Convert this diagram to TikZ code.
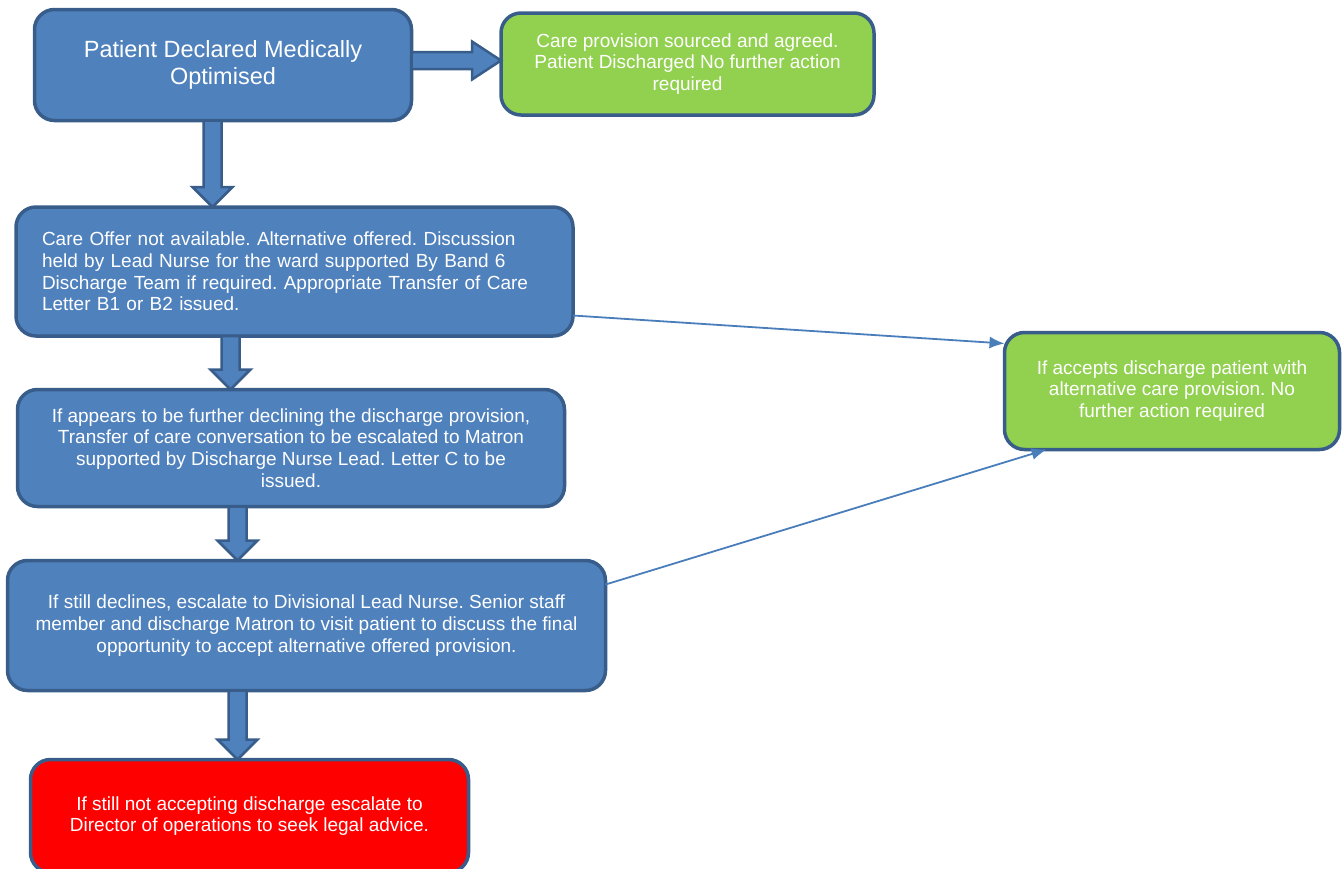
\documentclass[tikz,border=0pt]{standalone}
\usepackage{xcolor}
\usepackage{fontspec}
\setmainfont{Liberation Sans}
\usepackage{tikz}
\usetikzlibrary{calc,arrows.meta}
\frenchspacing

\definecolor{boxblue}{HTML}{4F81BD}
\definecolor{boxline}{HTML}{385D8A}
\definecolor{okgreen}{HTML}{92D050}
\definecolor{alertred}{HTML}{FF0000}
\definecolor{linkblue}{HTML}{4A7EBB}

\tikzset{
  stage/.style={draw=boxline, line width=3.5pt, fill=boxblue, rounded corners=20pt,
    text=white, align=center, font=\fontsize{19}{21.7}\selectfont,
    inner sep=0pt, outer sep=0pt},
  blockarrow/.style={draw=boxline, line width=2.5pt, fill=boxblue, line join=miter},
  linkarrow/.style={draw=linkblue, line width=1.8pt, -{Latex[length=15pt,width=12pt]}},
}

% fat arrows between two boxes, #3 = centre of the shaft
\newcommand{\blockdown}[3]{%
  \draw[blockarrow] let \p1=(#1.south), \p2=(#2.north) in
    (#3-9,\y1) -- (#3+9,\y1) -- (#3+9,\y2+20) -- (#3+20,\y2+20) -- (#3,\y2)
    -- (#3-20,\y2+20) -- (#3-9,\y2+20) -- cycle;}
\newcommand{\blockright}[3]{%
  \draw[blockarrow] let \p1=(#1.east), \p2=(#2.west) in
    (\x1,#3-8.5) -- (\x2-29,#3-8.5) -- (\x2-29,#3-19) -- (\x2,#3)
    -- (\x2-29,#3+19) -- (\x2-29,#3+8.5) -- (\x1,#3+8.5) -- cycle;}

\begin{document}
\begin{tikzpicture}[x=1pt, y=-1pt]
            \useasboundingbox (0,0) rectangle (1343,868);
            \clip (0,0) rectangle (1343,868);

            \node[stage, minimum width=377pt, minimum height=111pt,
              font=\fontsize{23.5}{27}\selectfont] (optimised) at (223,65)
              {\raisebox{-2pt}{Patient Declared Medically}\\\raisebox{-2pt}{Optimised}};
            \node[stage, fill=okgreen, minimum width=373pt, minimum height=102pt] (sourced) at (687.5,64)
              {Care provision sourced and agreed.\\Patient Discharged No further action\\required};
            \node[stage, align=left, text width=505pt, inner xsep=26pt, minimum height=129pt] (offer) at (294.5,271.5)
              {Care Offer not available. Alternative offered. Discussion\\held by Lead Nurse for the ward supported By Band 6\\Discharge Team if required. Appropriate Transfer of Care\\Letter B1 or B2 issued.};
            \node[stage, minimum width=547pt, minimum height=117pt] (matron) at (291,448)
              {If appears to be further declining the discharge provision,\\Transfer of care conversation to be escalated to Matron\\supported by Discharge Nurse Lead. Letter C to be\\issued.};
            \node[stage, minimum width=598pt, minimum height=130pt] (divisional) at (306.5,625.5)
              {If still declines, escalate to Divisional Lead Nurse. Senior staff\\member and discharge Matron to visit patient to discuss the final\\opportunity to accept alternative offered provision.};
            \node[stage, fill=alertred, minimum width=438pt, minimum height=113pt] (legal) at (249.5,816)
              {If still not accepting discharge escalate to\\Director of operations to seek legal advice.};
            \node[stage, fill=okgreen, minimum width=335pt, minimum height=117pt] (accepts) at (1172,391)
              {If accepts discharge patient with\\alternative care provision. No\\further action required};

            \blockright{optimised}{sourced}{60.5}
            \blockdown{optimised}{offer}{212.5}
            \blockdown{offer}{matron}{230.5}
            \blockdown{matron}{divisional}{237.5}
            \blockdown{divisional}{legal}{237.5}

            \draw[linkarrow] ([yshift=-44pt]offer.east) -- ([yshift=-11pt]accepts.north west);
            \draw[linkarrow] ([yshift=41pt]divisional.east) -- ([xshift=42pt]accepts.south west);% accepted at last
        \end{tikzpicture}
\end{document}
